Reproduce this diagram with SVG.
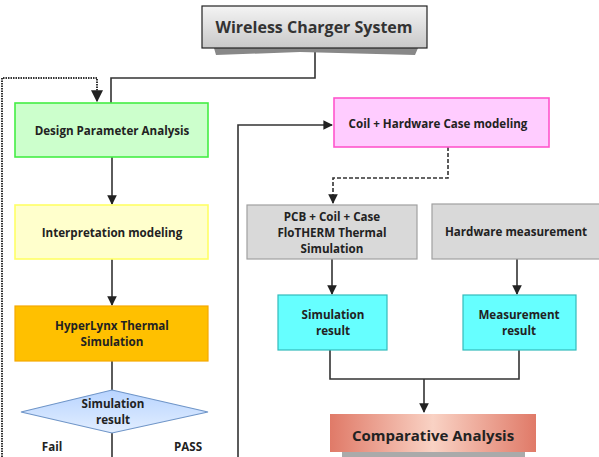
<svg xmlns="http://www.w3.org/2000/svg" width="599" height="457" viewBox="0 0 599 457">
<style>
text{font-family:"Open Sans","Noto Sans","DejaVu Sans",sans-serif;font-weight:bold;fill:#222;text-anchor:middle}
.s{font-size:11.6px;font-weight:bold}
.ln{fill:none;stroke:#333;stroke-width:1.6}
.dl{fill:none;stroke:#333;stroke-width:1.6;stroke-dasharray:4 2}
.dt{fill:none;stroke:#333;stroke-width:2;stroke-dasharray:1.5 1}
</style>
<defs>
<marker id="ar" viewBox="0 0 10 10" refX="9" refY="5" markerWidth="6" markerHeight="6" orient="auto"><path d="M0,0L10,5L0,10z" fill="#222"/></marker>
<linearGradient id="gw" x1="0" y1="0" x2="0" y2="1"><stop offset="0" stop-color="#f4f4f4"/><stop offset="1" stop-color="#c8c8c8"/></linearGradient>
<linearGradient id="gd" x1="0" y1="0" x2="0" y2="1"><stop offset="0" stop-color="#b8d4ff"/><stop offset="1" stop-color="#e2eeff"/></linearGradient>
<linearGradient id="gc" x1="0" y1="0" x2="1" y2="0"><stop offset="0" stop-color="#e07a68"/><stop offset="0.5" stop-color="#f9d2c4"/><stop offset="1" stop-color="#e07a68"/></linearGradient>
</defs>
<g id="connectors">
<path class="ln" d="M315,48V78H111V103"/>
<path class="dt" d="M2,457V78H97V101" marker-end="url(#ar)"/>
<path class="ln" d="M112,157V204" marker-end="url(#ar)"/>
<path class="ln" d="M112,259V305" marker-end="url(#ar)"/>
<path class="ln" d="M112,361V390"/>
<path class="ln" d="M112,433V457"/>
<path class="ln" d="M238,457V125H332" marker-end="url(#ar)"/>
<path class="dl" d="M448,147V178H333V203" marker-end="url(#ar)"/>
<path class="ln" d="M332,259V294" marker-end="url(#ar)"/>
<path class="ln" d="M517,259V294" marker-end="url(#ar)"/>
<path class="ln" d="M330,350V379H519V350"/>
<path class="ln" d="M424,379V412" marker-end="url(#ar)"/>
</g>
<g id="wireless">
<path d="M214,48L216,55L300,52L415,55L418,48z" fill="#888"/>
<rect x="202" y="6" width="225" height="42" fill="url(#gw)" stroke="#222" stroke-width="1.2"/>
<text x="314" y="33" style="font-size:16px;fill:#333">Wireless Charger System</text>
</g>
<g id="design">
<rect x="15" y="103" width="193" height="54" fill="#ccffcc" stroke="#44ee44" stroke-width="1.6"/>
<text class="s" x="112" y="135">Design Parameter Analysis</text>
</g>
<g id="interp">
<rect x="15" y="205" width="193" height="54" fill="#ffffcc" stroke="#ffff66" stroke-width="1.6"/>
<text class="s" x="112" y="237">Interpretation modeling</text>
</g>
<g id="hyperlynx">
<rect x="15" y="306" width="193" height="55" fill="#ffc000" stroke="#f5a800" stroke-width="1.2"/>
<text class="s" x="112" y="330">HyperLynx Thermal</text>
<text class="s" x="112" y="346">Simulation</text>
</g>
<g id="decision">
<path d="M112,390L208,412L112,433L21,412z" fill="url(#gd)" stroke="#6f95c8" stroke-width="1.2"/>
<text class="s" x="113" y="408">Simulation</text>
<text class="s" x="113" y="424">result</text>
</g>
<text class="s" x="52" y="451">Fail</text>
<text class="s" x="188" y="451">PASS</text>
<g id="coil">
<rect x="334" y="98" width="215" height="49" fill="#ffccff" stroke="#ff55cc" stroke-width="1.6"/>
<text class="s" x="438" y="128">Coil + Hardware Case modeling</text>
</g>
<g id="flotherm">
<rect x="247" y="205" width="170" height="54" fill="#d9d9d9" stroke="#a0a0a0" stroke-width="1.2"/>
<text class="s" x="332" y="221">PCB + Coil + Case</text>
<text class="s" x="332" y="237">FloTHERM Thermal</text>
<text class="s" x="332" y="253">Simulation</text>
</g>
<g id="hwmeas">
<rect x="432" y="204" width="170" height="55" fill="#d9d9d9" stroke="#a0a0a0" stroke-width="1.2"/>
<text class="s" x="516" y="236">Hardware measurement</text>
</g>
<g id="simres">
<rect x="278" y="295" width="109" height="55" fill="#66ffff" stroke="#33bbbb" stroke-width="1.2"/>
<text class="s" x="333" y="319">Simulation</text>
<text class="s" x="333" y="335">result</text>
</g>
<g id="measres">
<rect x="463" y="295" width="113" height="55" fill="#66ffff" stroke="#33bbbb" stroke-width="1.2"/>
<text class="s" x="519" y="319">Measurement</text>
<text class="s" x="519" y="335">result</text>
</g>
<g id="comparative">
<rect x="342" y="452" width="183" height="5" fill="#aaa"/>
<rect x="330" y="414" width="206" height="38" fill="url(#gc)"/>
<text x="433" y="441" style="font-size:15px;fill:#222">Comparative Analysis</text>
</g>
</svg>
